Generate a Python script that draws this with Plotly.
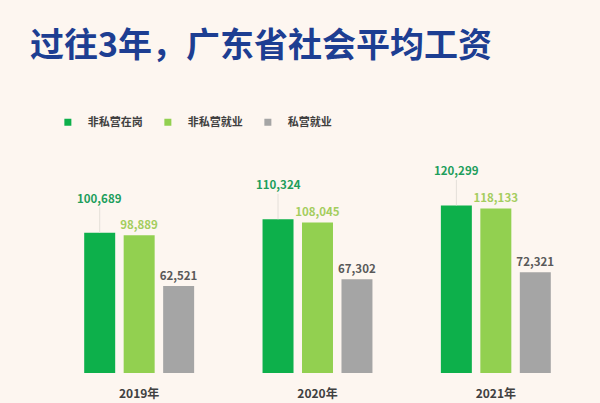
import plotly.graph_objects as go

years = ["2019年", "2020年", "2021年"]
series_names = ["非私营在岗", "非私营就业", "私营就业"]
non_private_onpost = [100689, 110324, 120299]
non_private_employed = [98889, 108045, 118133]
private_employed = [62521, 67302, 72321]

bar_colors = ["#0DB04B", "#92D050", "#A5A5A5"]
label_colors = ["#1E9E5C", "#A4CD5E", "#595959"]
FONT = "Noto Sans CJK SC"

BARGAP = 0.336
BARGROUPGAP = 0.215
xs = list(range(len(years)))
values = [non_private_onpost, non_private_employed, private_employed]

fig = go.Figure()
for k, (name, vals) in enumerate(zip(series_names, values)):
    show_text = k > 0
    fig.add_trace(go.Bar(
        x=xs, y=vals, name=name, showlegend=False,
        marker=dict(color=bar_colors[k], line=dict(width=0)),
        text=[f"{v:,}" for v in vals] if show_text else None,
        textposition="outside" if show_text else "none",
        constraintext="none",
        textfont=dict(family=FONT, size=11.5, color=label_colors[k], weight="bold"),
        cliponaxis=False, hoverinfo="skip",
    ))
    # legend proxy with small square symbols
    fig.add_trace(go.Scatter(
        x=[None], y=[None], mode="markers", name=name,
        marker=dict(symbol="square", size=7, color=bar_colors[k]),
    ))

# leader-line labels for first series
slot = (1 - BARGAP) / 3
for i, v in zip(xs, non_private_onpost):
    fig.add_annotation(
        x=i - slot, y=v, xref="x", yref="y",
        text=f"{v:,}", showarrow=True, arrowhead=0, arrowwidth=1,
        arrowcolor="#E4DFD9", ax=0, ay=-35, standoff=0,
        font=dict(family=FONT, size=11.5, color=label_colors[0], weight="bold"),
    )

fig.update_layout(
    width=600, height=403,
    paper_bgcolor="#FDF6F0", plot_bgcolor="#FDF6F0",
    margin=dict(l=50, r=15, t=164, b=30),
    barmode="group", bargap=BARGAP, bargroupgap=BARGROUPGAP,
    title=dict(
        text="过往3年，广东省社会平均工资",
        x=30 / 600, xref="container", xanchor="left",
        y=1 - 45 / 403, yref="container", yanchor="middle",
        font=dict(family=FONT, size=34, color="#1D3E92", weight="bold"),
    ),
    legend=dict(
        orientation="h", x=-0.004, xanchor="left", y=1.2, yanchor="middle",
        font=dict(family=FONT, size=11, color="#404040", weight="bold"),
        bgcolor="rgba(0,0,0,0)", entrywidth=55, itemwidth=30,
    ),
    xaxis=dict(
        tickvals=xs, ticktext=years, range=[-0.5, 2.5],
        showgrid=False, zeroline=False, showline=False, ticks="",
        ticklabelstandoff=12, automargin=False,
        tickfont=dict(family=FONT, size=12, color="#404040", weight="bold"),
    ),
    yaxis=dict(range=[0, 150000], visible=False, showgrid=False),
    showlegend=True,
)

fig.write_html("out.html")
